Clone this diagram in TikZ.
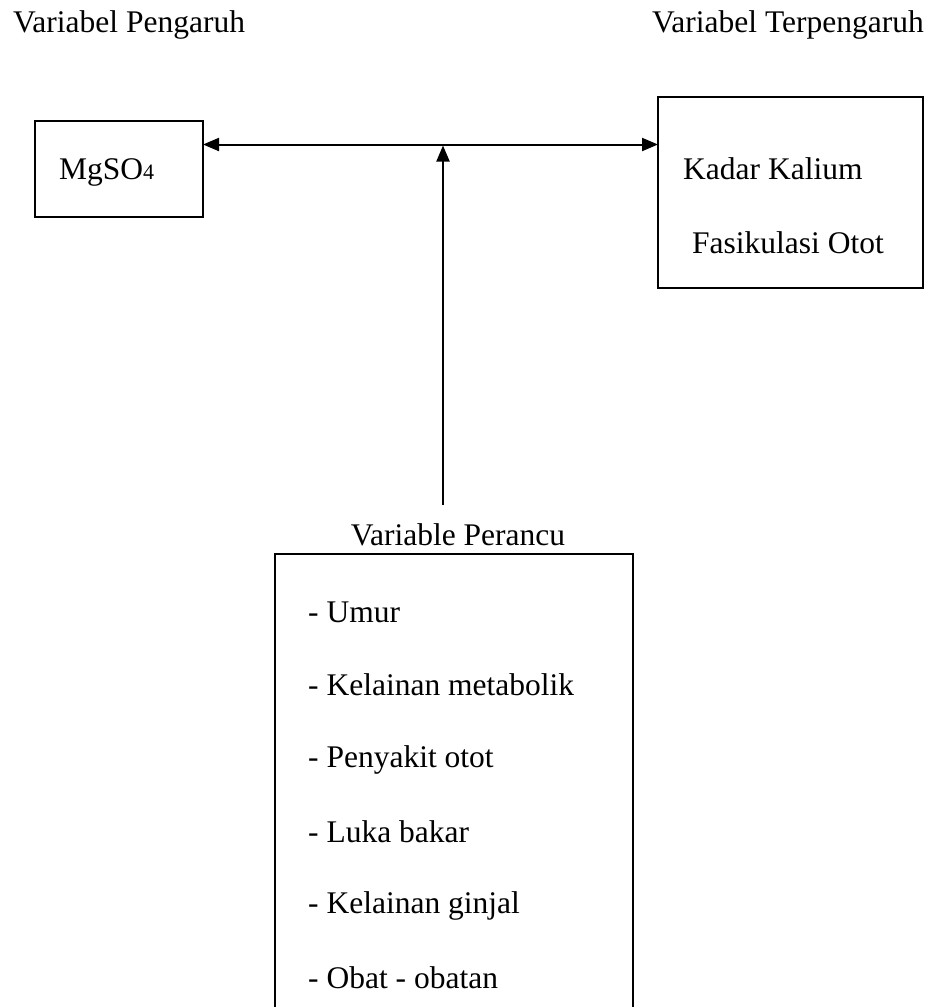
\documentclass[tikz,border=0pt]{standalone}
\usepackage{fontspec}
\setmainfont{Liberation Serif}
\usetikzlibrary{arrows.meta}
\begin{document}
\begin{tikzpicture}[x=1pt,y=-1pt,
  boxshape/.style={draw,line width=2.5pt,rectangle,inner sep=0pt,outer sep=0pt},
  lbl/.style={anchor=base west,inner sep=0pt,font=\fontsize{31.5}{36}\selectfont},
  conn/.style={line width=2pt,{Triangle[length=16pt,width=13pt]}-{Triangle[length=16pt,width=13pt]}},
  upconn/.style={line width=2pt,-{Triangle[length=16pt,width=13pt]}}]
\useasboundingbox (0,0) rectangle (937,1007);
% titles
\node[lbl] (tl) at (13,32) {Variabel Pengaruh};
\node[lbl] (tr) at (652,32) {Variabel Terpengaruh};
% boxes
\node[boxshape,minimum width=168pt,minimum height=96pt] (mgbox) at (119,169) {};
\node[boxshape,minimum width=265pt,minimum height=191pt] (kbox) at (790.5,192.5) {};
\node[boxshape,minimum width=358pt,minimum height=480pt] (pbox) at (454,794) {};
% box texts
\node[lbl] (mg) at (59,179) {MgSO{\fontsize{22}{26}\selectfont 4}};
\node[lbl] (k1) at (683,179) {Kadar Kalium};
\node[lbl] (k2) at (692,253) {Fasikulasi Otot};
\node[lbl,anchor=base] (pt) at (458,545) {Variable Perancu};
\node[lbl] (i1) at (308,622) {- Umur};
\node[lbl] (i2) at (308,695) {- Kelainan metabolik};
\node[lbl] (i3) at (308,767) {- Penyakit otot};
\node[lbl] (i4) at (308,842) {- Luka bakar};
\node[lbl] (i5) at (308,913) {- Kelainan ginjal};
\node[lbl] (i6) at (308,988) {- Obat - obatan};
% connectors
\coordinate (hy) at (0,144.5);
\coordinate (vbot) at (443,505);
\coordinate (vtop) at (443,145.5);
\draw[conn] (mgbox.east |- hy) -- (kbox.west |- hy);
\draw[upconn] (vbot) -- (vtop);
\end{tikzpicture}
\end{document}
